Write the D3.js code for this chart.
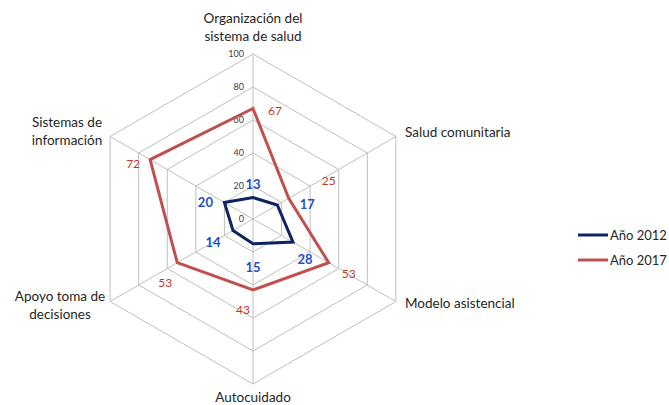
<!DOCTYPE html>
<html><head><meta charset="utf-8">
<script src="https://cdn.jsdelivr.net/npm/d3@7"></script>
<style>body{margin:0;background:#fff}svg{display:block}text{font-family:Lato,"Open Sans",sans-serif}</style>
</head><body><svg id="c" width="669" height="405"></svg>
<script>
const categories = [["Organización del","sistema de salud"],["Salud comunitaria"],["Modelo asistencial"],["Autocuidado"],["Apoyo toma de","decisiones"],["Sistemas de","información"]];
const series2012 = [13,17,28,15,14,20];
const series2017 = [67,25,53,43,53,72];
const seriesNames = ["Año 2012","Año 2017"];
const ticks = [0,20,40,60,80,100];

const svg = d3.select("#c");
const cx = 253, cy = 219, R = 165;
const r = d3.scaleLinear().domain([0,100]).range([0,R]);
const ang = d3.scaleLinear().domain([0,6]).range([0,2*Math.PI]);
const pt = (i,v)=>[cx + r(v)*Math.sin(ang(i)), cy - r(v)*Math.cos(ang(i))];
const idx = d3.range(6);

// grid
ticks.slice(1).forEach(t=>{
  svg.append("path").attr("d", d3.line()(idx.map(i=>pt(i,t))) + "Z")
    .attr("fill","none").attr("stroke","#bfbfbf").attr("stroke-width",1);
});
idx.forEach(i=>{
  const [x,y]=pt(i,100);
  svg.append("line").attr("x1",cx).attr("y1",cy).attr("x2",x).attr("y2",y).attr("stroke","#bfbfbf");
});
// tick labels
ticks.forEach(t=>{
  svg.append("text").attr("x",cx-9).attr("y",cy-r(t)+3).attr("text-anchor","end")
    .attr("font-size",9).attr("fill","#404040").text(t);
});

const colors = ["#0c2461","#c0504d"];
const labelColors = ["#1f4fc8","#c0392b"];
[series2012,series2017].forEach((s,k)=>{
  svg.append("path").attr("d", d3.line()(s.map((v,i)=>pt(i,v))) + "Z")
    .attr("fill","none").attr("stroke",colors[k]).attr("stroke-width",3).attr("stroke-linejoin","miter");
});

// value labels
const off2012 = [[0,-13],[30,0],[12,18],[0,24],[-20,12],[-19,0]];
const off2017 = [[22,3],[40,-17],[20,11],[-10,20],[-12,20],[-17,4]];
[[series2012,off2012,0],[series2017,off2017,1]].forEach(([s,off,k])=>{
  s.forEach((v,i)=>{
    const [x,y]=pt(i,v);
    svg.append("text").attr("x",x+off[i][0]).attr("y",y+off[i][1]+4).attr("text-anchor","middle")
      .attr("font-size",k===0?13:12).attr("font-weight",k===0?"bold":"normal")
      .attr("fill",labelColors[k]).text(v);
  });
});

// category labels
const catPos = [[253,23,"middle"],[405,137,"start"],[405,308,"start"],[253,402,"middle"],[60,301,"middle"],[67,127,"middle"]];
categories.forEach((c,i)=>{
  const [x,y,a]=catPos[i];
  c.forEach((line,j)=>{
    svg.append("text").attr("x",x).attr("y",y+j*18).attr("text-anchor",a)
      .attr("font-size",13.5).attr("fill","#262626").text(line);
  });
});

// legend
seriesNames.forEach((n,k)=>{
  const y = 235 + k*25;
  svg.append("line").attr("x1",578).attr("x2",608).attr("y1",y).attr("y2",y).attr("stroke",colors[k]).attr("stroke-width",3);
  svg.append("text").attr("x",610).attr("y",y+5).attr("font-size",13).attr("fill","#262626").text(n);
});
</script></body></html>
